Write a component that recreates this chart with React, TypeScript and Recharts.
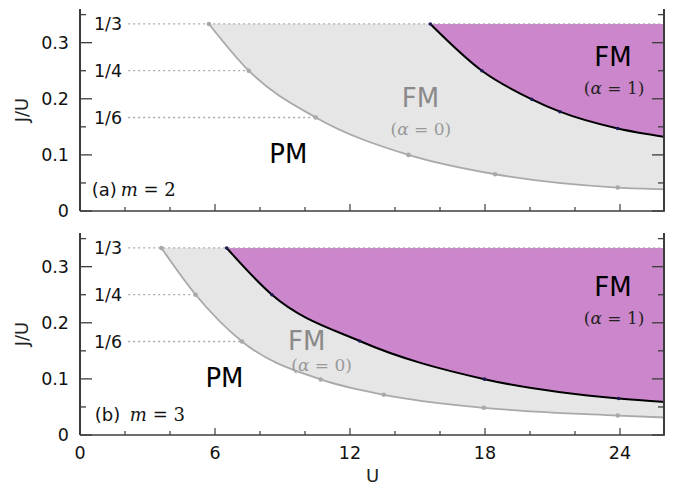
import React from 'react';
import {
  ComposedChart,
  Area,
  Line,
  XAxis,
  YAxis,
  ReferenceLine,
  ReferenceDot,
} from 'recharts';

// panel (a), m = 2 : lower boundary (alpha = 0) and alpha = 1 boundary
const U_GRAY_A = [5.73, 7.5, 10.48, 14.6, 18.45, 23.9, 26];
const J_GRAY_A = [0.3333, 0.25, 0.1667, 0.1, 0.0655, 0.0418, 0.0388];
const U_BLACK_A = [15.57, 17.86, 20.08, 21.33, 23.9, 26];
const J_BLACK_A = [0.3333, 0.25, 0.199, 0.177, 0.147, 0.132];

// panel (b), m = 3
const U_GRAY_B = [3.62, 5.14, 7.2, 10.7, 13.5, 17.95, 23.9, 26];
const J_GRAY_B = [0.3333, 0.25, 0.1667, 0.099, 0.0716, 0.0485, 0.0347, 0.0312];
const U_BLACK_B = [6.52, 8.53, 12.43, 17.98, 23.94, 26];
const J_BLACK_B = [0.3333, 0.25, 0.1675, 0.0995, 0.065, 0.059];

// guide lines J/U = 1/3, 1/4, 1/6
const RATIOS = [1 / 3, 1 / 4, 1 / 6];
const RATIO_LABELS = ['1/3', '1/4', '1/6'];

const X_TICKS = [0, 2, 4, 6, 8, 10, 12, 14, 16, 18, 20, 22, 24];
const Y_TICKS = [0, 0.05, 0.1, 0.15, 0.2, 0.25, 0.3, 0.35];
const X_MAX = 26;
const Y_MAX = 0.36;

const SANS = 'DejaVu Sans';
const SERIF = 'DejaVu Serif';
const GRAY_FILL = '#e6e6e6';
const GRAY_LINE = '#a9a9a9';
const PURPLE = '#cc86cc';
const AXIS = '#3c3c3c';
const MARGIN = { top: 9, right: 8, bottom: 0, left: 0 };

const toRows = (u: number[], j: number[]) =>
  u.map((x, i) => ({ u: x, j: j[i], mk: i < u.length - 1 }));

const isMajorX = (v: number) => v % 6 === 0;
const isMajorY = (v: number) => Math.abs(v * 10 - Math.round(v * 10)) < 1e-6;

// inward ticks, labels drawn only where asked
const XTick = ({ x, y, payload, side, showLabel }: any) => {
  const major = isMajorX(payload.value);
  const len = major ? 7 : 4;
  const dir = side === 'bottom' ? -1 : 1;
  return (
    <g>
      <line x1={x} x2={x} y1={y} y2={y + dir * len} stroke={AXIS} strokeWidth={1.2} />
      {showLabel && major && (
        <text x={x} y={y + 24} textAnchor="middle" fontSize={17.5} fontFamily={SANS} fill="#111">
          {payload.value}
        </text>
      )}
    </g>
  );
};

const YTick = ({ x, y, payload, side }: any) => {
  const major = isMajorY(payload.value);
  const len = major ? 12 : 6;
  const dir = side === 'right' ? -1 : 1;
  return (
    <g>
      <line x1={x} x2={x + dir * len} y1={y} y2={y} stroke={AXIS} strokeWidth={1.3} />
      {side !== 'right' && major && (
        <text x={x - 11} y={y} dy="0.36em" textAnchor="end" fontSize={17.5} fontFamily={SANS} fill="#111">
          {payload.value === 0 ? '0' : payload.value.toFixed(1)}
        </text>
      )}
    </g>
  );
};

const makeDot = (fill: string, r: number) => (p: any) => {
  if (!p.payload || !p.payload.mk) return <g key={`n-${p.index}`} />;
  return <circle key={`d-${p.index}`} cx={p.cx} cy={p.cy} r={r} fill={fill} />;
};

const Alpha = (value: string, fill: string) => (p: any) => (
  <text x={p.viewBox.x} y={p.viewBox.y} textAnchor="middle" fontSize={17} fontFamily={SERIF} fill={fill}>
    (<tspan fontStyle="italic">α</tspan> = {value})
  </text>
);

const Word = (value: string, fill: string) => (p: any) => (
  <text x={p.viewBox.x} y={p.viewBox.y} textAnchor="middle" fontSize={26} fontFamily={SANS} fill={fill}>
    {value}
  </text>
);

const Tag = (tag: string, m: string, gap: number) => (p: any) => (
  <text x={p.viewBox.x} y={p.viewBox.y} fontSize={18} fontFamily={SANS} fill="#111">
    {tag}
    <tspan x={p.viewBox.x + gap} fontFamily={SERIF} fontStyle="italic">m</tspan>
    <tspan fontFamily={SERIF}> = {m}</tspan>
  </text>
);

interface PanelProps {
  height: number;
  bottomHeight: number;
  uGray: number[];
  jGray: number[];
  uBlack: number[];
  jBlack: number[];
  notes: { u: number; j: number; label: any }[];
  showX: boolean;
}

const Panel = ({ height, bottomHeight, uGray, jGray, uBlack, jBlack, notes, showX }: PanelProps) => {
  const gray = toRows(uGray, jGray);
  const black = toRows(uBlack, jBlack);
  // dotted guides end at the alpha = 0 boundary (1/3 runs to the frame)
  const ends = RATIOS.map((r, i) => (i === 0 ? X_MAX : uGray[jGray.findIndex((v) => Math.abs(v - r) < 1e-3)]));

  return (
    <ComposedChart width={673} height={height} margin={MARGIN}>
      <XAxis
        xAxisId={0}
        dataKey="u"
        type="number"
        domain={[0, X_MAX]}
        allowDataOverflow
        ticks={X_TICKS}
        interval={0}
        height={bottomHeight}
        tickSize={0}
        tickMargin={0}
        tickLine={false}
        axisLine={{ stroke: AXIS, strokeWidth: 1.5 }}
        tick={<XTick side="bottom" showLabel={showX} />}
        label={
          showX
            ? (p: any) => (
                <text
                  x={p.viewBox.x + p.viewBox.width / 2}
                  y={p.viewBox.y + 47}
                  textAnchor="middle"
                  fontSize={18}
                  fontFamily={SANS}
                  fill="#222"
                >
                  U
                </text>
              )
            : undefined
        }
      />
      <XAxis
        xAxisId="top"
        orientation="top"
        dataKey="u"
        type="number"
        domain={[0, X_MAX]}
        allowDataOverflow
        ticks={X_TICKS}
        interval={0}
        height={0}
        tickSize={0}
        tickMargin={0}
        tickLine={false}
        axisLine={{ stroke: '#777', strokeWidth: 1.2 }}
        tick={<XTick side="top" showLabel={false} />}
      />
      <YAxis
        yAxisId={0}
        type="number"
        domain={[0, Y_MAX]}
        allowDataOverflow
        ticks={Y_TICKS}
        interval={0}
        width={80}
        tickSize={0}
        tickMargin={0}
        tickLine={false}
        axisLine={{ stroke: AXIS, strokeWidth: 2 }}
        tick={<YTick side="left" />}
        label={(p: any) => (
          <text
            x={p.viewBox.x + 22}
            y={p.viewBox.y + p.viewBox.height / 2}
            transform={`rotate(-90 ${p.viewBox.x + 22} ${p.viewBox.y + p.viewBox.height / 2})`}
            textAnchor="middle"
            dy="0.36em"
            fontSize={18}
            fontFamily={SANS}
            fill="#222"
          >
            J/U
          </text>
        )}
      />

      <Area
        data={gray}
        dataKey="j"
        type="monotone"
        baseValue={1 / 3}
        fill={GRAY_FILL}
        fillOpacity={1}
        stroke={GRAY_LINE}
        strokeWidth={1.8}
        dot={makeDot(GRAY_LINE, 2.3)}
        activeDot={false}
        isAnimationActive={false}
      />
      <Area
        data={black}
        dataKey="j"
        type="monotone"
        baseValue={1 / 3}
        fill={PURPLE}
        fillOpacity={1}
        stroke="#000"
        strokeWidth={2}
        dot={makeDot('#1a1a55', 1.8)}
        activeDot={false}
        isAnimationActive={false}
      />

      {RATIOS.map((r, i) => (
        <ReferenceLine
          key={RATIO_LABELS[i]}
          segment={[
            { x: 2.14, y: r },
            { x: ends[i], y: r },
          ]}
          stroke="#aaa"
          strokeWidth={1.3}
          strokeDasharray="2 3"
          label={{ value: RATIO_LABELS[i], position: 'left', offset: 6, fill: '#111', fontSize: 17.5, fontFamily: SANS }}
        />
      ))}

      {notes.map((n, i) => (
        <ReferenceDot key={i} x={n.u} y={n.j} r={0} stroke="none" fill="none" label={n.label} />
      ))}
    </ComposedChart>
  );
};

// right-hand frame with inward ticks: a transparent chart laid over the panel,
// with one invisible series so the right axis is built and drawn above the fills
const FRAME_ROWS = [
  { u: 0, j: 0 },
  { u: X_MAX, j: 0 },
];

const RightFrame = ({ height, bottomHeight }: { height: number; bottomHeight: number }) => (
  <ComposedChart
    width={673}
    height={height}
    data={FRAME_ROWS}
    margin={{ top: MARGIN.top, right: MARGIN.right, bottom: bottomHeight, left: 80 }}
  >
    <XAxis dataKey="u" type="number" domain={[0, X_MAX]} allowDataOverflow hide />
    <YAxis
      orientation="right"
      type="number"
      domain={[0, Y_MAX]}
      allowDataOverflow
      ticks={Y_TICKS}
      interval={0}
      width={1}
      tickSize={0}
      tickMargin={0}
      tickLine={false}
      axisLine={{ stroke: AXIS, strokeWidth: 2 }}
      tick={<YTick side="right" />}
    />
    <Line dataKey="j" stroke="none" dot={false} activeDot={false} isAnimationActive={false} />
  </ComposedChart>
);

const NOTES_A = [
  { u: 9.26, j: 0.0857, label: Word('PM', '#000') },
  { u: 15.13, j: 0.1857, label: Word('FM', '#8a8a8a') },
  { u: 15.15, j: 0.136, label: Alpha('0', '#999') },
  { u: 23.69, j: 0.2584, label: Word('FM', '#000') },
  { u: 23.74, j: 0.2084, label: Alpha('1', '#222') },
  { u: 0.52, j: 0.026, label: Tag('(a)', '2', 29) },
];

const NOTES_B = [
  { u: 6.42, j: 0.0858, label: Word('PM', '#000') },
  { u: 10.08, j: 0.151, label: Word('FM', '#8a8a8a') },
  { u: 10.74, j: 0.1137, label: Alpha('0', '#999') },
  { u: 23.69, j: 0.2474, label: Word('FM', '#000') },
  { u: 23.74, j: 0.198, label: Alpha('1', '#222') },
  { u: 0.66, j: 0.0254, label: Tag('(b)', '3', 35) },
];

const abs = (top: number): React.CSSProperties => ({ position: 'absolute', left: 0, top });

export default function App() {
  return (
    <div style={{ position: 'absolute', left: 0, top: 0, width: 673, height: 485, background: '#fff', fontFamily: SANS }}>
      <div style={abs(0)}>
        <Panel
          height={230}
          bottomHeight={19}
          uGray={U_GRAY_A}
          jGray={J_GRAY_A}
          uBlack={U_BLACK_A}
          jBlack={J_BLACK_A}
          notes={NOTES_A}
          showX={false}
        />
      </div>
      <div style={{ ...abs(0), pointerEvents: 'none' }}>
        <RightFrame height={230} bottomHeight={19} />
      </div>
      <div style={abs(224)}>
        <Panel
          height={261}
          bottomHeight={50}
          uGray={U_GRAY_B}
          jGray={J_GRAY_B}
          uBlack={U_BLACK_B}
          jBlack={J_BLACK_B}
          notes={NOTES_B}
          showX
        />
      </div>
      <div style={{ ...abs(224), pointerEvents: 'none' }}>
        <RightFrame height={261} bottomHeight={50} />
      </div>
    </div>
  );
}
